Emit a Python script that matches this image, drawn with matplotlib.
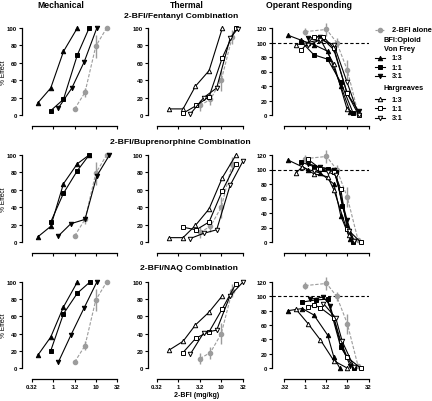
import matplotlib
matplotlib.use('Agg')
from matplotlib import pyplot as plt
from matplotlib.ticker import NullLocator

plt.rcParams['font.family'] = ['Liberation Sans', 'DejaVu Sans']
plt.rcParams['font.weight'] = 'bold'

GRAY = '#9c9c9c'
W, H = 432, 402

# ---- data: (doses in mg/kg 2-BFI, % effect) ----
xticks = [0.32, 1, 3.2, 10, 32]
xlabels_left = ['0.32', '1', '3.2', '10', '32']
xlabels_right = ['.32', '1', '3.2', '10', '32']
ratios = ['1:3', '1:1', '3:1']
row_titles = ['2-BFI/Fentanyl Combination', '2-BFI/Buprenorphine Combination', '2-BFI/NAQ Combination']
col_titles = ['Mechanical', 'Thermal', 'Operant Responding']

# 2-BFI alone
alone_mech = ([3.2, 5.6, 10, 18], [7, 26, 79, 100], [0, 5, 13, 0])
alone_therm = ([3.2, 5.6, 10, 18], [11, 18, 40, 90], [6, 7, 12, 8])
alone_oper = ([1, 3.2, 5.6, 10, 18], [115, 118, 100, 62, 3], [5, 9, 6, 14, 0])

# Mechanical (Von Frey), order 1:3, 1:1, 3:1
fent_mech = [([0.44, 0.88, 1.75, 3.7], [14, 31, 73, 100]),
             ([0.88, 1.75, 3.7, 7.0], [5, 18, 69, 100]),
             ([1.33, 2.75, 5.35, 10.6], [8, 31, 61, 100])]
bup_mech = [([0.44, 0.88, 1.75, 3.7, 7.0], [6, 18, 67, 90, 100]),
            ([0.88, 1.75, 3.7, 7.0], [23, 56, 82, 100]),
            ([1.33, 2.6, 5.6, 10.6, 21], [7, 21, 26, 76, 100])]
naq_mech = [([0.44, 0.88, 1.75, 3.7], [15, 36, 71, 100]),
            ([0.88, 1.75, 3.7, 7.3], [20, 63, 87, 100]),
            ([1.33, 2.6, 5.35, 10.6], [7, 38, 70, 100])]

# Thermal (Hargreaves)
fent_therm = [([0.62, 1.29, 2.5, 5.2, 10.6], [7, 7, 33, 51, 100]),
              ([1.29, 2.65, 5.2, 10.6, 21.9], [2, 11, 21, 66, 100]),
              ([1.9, 3.9, 7.8, 16, 24], [1, 20, 31, 88, 99])]
bup_therm = [([0.62, 1.29, 2.5, 5.2, 10.6, 21.9], [5, 5, 19, 38, 74, 100]),
             ([1.29, 2.6, 5.2, 10.6, 21.9], [17, 14, 23, 59, 90]),
             ([1.9, 3.9, 7.8, 16, 32], [4, 10, 14, 65, 93])]
naq_therm = [([0.62, 1.29, 2.5, 5.2, 10.6], [21, 31, 50, 65, 84]),
             ([1.29, 2.6, 5.2, 10.6, 21.9], [18, 35, 42, 69, 98]),
             ([1.9, 3.9, 7.8, 16, 32], [16, 41, 44, 84, 100])]

# Operant responding: Von Frey combos then Hargreaves combos
fent_oper_vf = [([0.39, 0.81, 1.6, 3.4, 7.0, 11.8], [110, 103, 97, 88, 40, 4]),
                ([0.81, 1.6, 3.4, 7.0, 13.7], [101, 83, 77, 45, 3]),
                ([1.16, 2.3, 4.8, 9.9, 18.6], [106, 108, 90, 30, 5])]
fent_oper_h = [([0.6, 1.16, 2.3, 4.8, 9.9], [97, 100, 104, 70, 8]),
               ([0.81, 1.6, 2.7, 4.8, 9.9, 18.6], [90, 108, 108, 92, 30, 0]),
               ([1.16, 2.3, 4.8, 9.9, 18.6], [96, 104, 97, 45, 0])]
bup_oper_vf = [([0.39, 1.16, 2.3, 4.8, 7.0, 11.8], [113, 100, 95, 80, 36, 4]),
               ([0.81, 1.6, 3.4, 5.3, 7.6, 13.7], [110, 104, 101, 97, 50, 0]),
               ([1.16, 2.3, 4.8, 9.9, 14.3], [108, 103, 100, 30, 2])]
bup_oper_h = [([0.6, 0.85, 1.6, 3.4, 4.8, 10.8], [95, 104, 94, 90, 72, 9]),
              ([1.16, 2.3, 4.8, 7.0, 9.9, 20.7], [114, 101, 97, 73, 18, 0]),
              ([1.6, 3.4, 5.3, 10.8, 14.3], [98, 97, 92, 15, 2])]
naq_oper_vf = [([0.39, 0.85, 1.6, 3.4, 4.8, 6.6], [80, 83, 74, 46, 15, 0]),
               ([0.85, 1.77, 3.4, 7.0, 14.3], [92, 95, 96, 29, 0]),
               ([1.3, 2.7, 3.9, 7.0, 11.8], [96, 99, 87, 33, 3])]
naq_oper_h = [([0.6, 1.16, 2.3, 4.8, 9.9], [82, 62, 39, 10, 0]),
              ([1.16, 1.6, 2.3, 4.8, 7.0, 9.9, 20.7], [85, 88, 84, 70, 37, 15, 0]),
              ([2.7, 5.3, 7.6, 14.3], [90, 70, 37, 2])]

mech_rows = [fent_mech, bup_mech, naq_mech]
therm_rows = [fent_therm, bup_therm, naq_therm]
oper_rows = [(fent_oper_vf, fent_oper_h), (bup_oper_vf, bup_oper_h), (naq_oper_vf, naq_oper_h)]

markers = ['^', 's', 'v']

# ---- layout (pixels) ----
col_x = [(22, 117.3, 32), (148, 243, 157), (272, 368.5, 284.5)]   # y-axis, x end, x start
row_y = [(116, 29), (243, 156), (369, 283)]                         # zero, top


def make_axes(fig, col, row, ymax):
    x0, x1, xs = col_x[col]
    y0, y1 = row_y[row]
    ax = fig.add_axes([x0 / W, 1 - y0 / H, (x1 - x0) / W, (y0 - y1) / H])
    ax.set_xscale('log')
    ppd = (x1 - xs) / 2.0
    ax.set_xlim(10 ** (-0.49485 - (xs - x0) / ppd), 32)
    ax.set_ylim(0, ymax)
    for s in ['top', 'right']:
        ax.spines[s].set_visible(False)
    ax.spines['left'].set_bounds(0, ymax)
    ax.spines['bottom'].set_bounds(0.32, 32)
    ax.spines['bottom'].set_position(('outward', 8))
    for s in ['left', 'bottom']:
        ax.spines[s].set_linewidth(0.9)
    ax.set_xticks(xticks)
    ax.xaxis.set_minor_locator(NullLocator())
    if row == 2:
        ax.set_xticklabels(xlabels_right if col == 2 else xlabels_left)
    else:
        ax.set_xticklabels([])
    ax.set_yticks(range(0, ymax + 1, 20))
    ax.tick_params(direction='out', length=2.5, width=0.8, pad=1, labelsize=4.3)
    return ax


def plot_series(ax, d, e, marker, filled):
    ax.plot(d, e, color='k', lw=0.8, marker=marker, ms=3.2,
            mfc='k' if filled else 'white', mec='k', mew=0.7, clip_on=False, zorder=3)


def plot_alone(ax, data):
    d, e, err = data
    ax.errorbar(d, e, yerr=err, color=GRAY, ls='--', dashes=(3, 1.5), lw=0.8,
                marker='o', ms=3, elinewidth=1.0, capsize=0, clip_on=False, zorder=2)


fig = plt.figure(figsize=(W / 100, H / 100), dpi=100)

for r in range(3):
    ax = make_axes(fig, 0, r, 100)
    plot_alone(ax, alone_mech)
    for (d, e), m in zip(mech_rows[r], markers):
        plot_series(ax, d, e, m, True)
    ax.set_ylabel('% Effect', fontsize=4.8)
    ax.yaxis.set_label_coords(-0.16, 0.5)

    ax = make_axes(fig, 1, r, 100)
    plot_alone(ax, alone_therm)
    for (d, e), m in zip(therm_rows[r], markers):
        plot_series(ax, d, e, m, False)

    ax = make_axes(fig, 2, r, 120)
    ax.axhline(100, color='k', lw=0.8, ls='--', dashes=(3, 2), zorder=1)
    plot_alone(ax, alone_oper)
    vf, hg = oper_rows[r]
    for (d, e), m in zip(vf, markers):
        plot_series(ax, d, e, m, True)
    for (d, e), m in zip(hg, markers):
        plot_series(ax, d, e, m, False)


def ftext(x, y, s, size, ha='center'):
    fig.text(x / W, 1 - y / H, s, fontsize=size, ha=ha, va='center', fontweight='bold')


for (x, _, _), t, cx in zip(col_x, col_titles, [61, 187, 309]):
    ftext(cx, 5, t, 6.2)
for t, cx, cy in zip(row_titles, [181, 180, 189], [16, 143, 269]):
    ftext(cx, cy, t, 6.1)
ftext(197, 396, '2-BFI (mg/kg)', 5.0)

# legend drawn in pixel space
leg = fig.add_axes([0, 0, 1, 1], facecolor='none')
leg.set_xlim(0, W)
leg.set_ylim(H, 0)
leg.axis('off')
leg.plot([375, 385], [31, 31], color=GRAY, ls='--', dashes=(2, 1), lw=0.8)
leg.plot([380], [31], color=GRAY, marker='o', ms=3)
ftext(391.5, 31, '2-BFI alone', 5.3, ha='left')
ftext(384, 40.5, 'BFI:Opioid', 5.3, ha='left')
ftext(384, 49.5, 'Von Frey', 5.3, ha='left')
leg_rows_vf = [59, 68, 77]
leg_rows_h = [100, 109.3, 118.7]
ftext(384, 88.5, 'Hargreaves', 5.3, ha='left')
for ys, filled in [(leg_rows_vf, True), (leg_rows_h, False)]:
    for y, m, lab in zip(ys, markers, ratios):
        leg.plot([375, 385], [y, y], color='k', lw=0.8)
        leg.plot([380], [y], color='k', marker=m, ms=3.2,
                 mfc='k' if filled else 'white', mec='k', mew=0.7)
        ftext(391.5, y, lab, 5.3, ha='left')

fig.savefig('out.png', dpi=100)
